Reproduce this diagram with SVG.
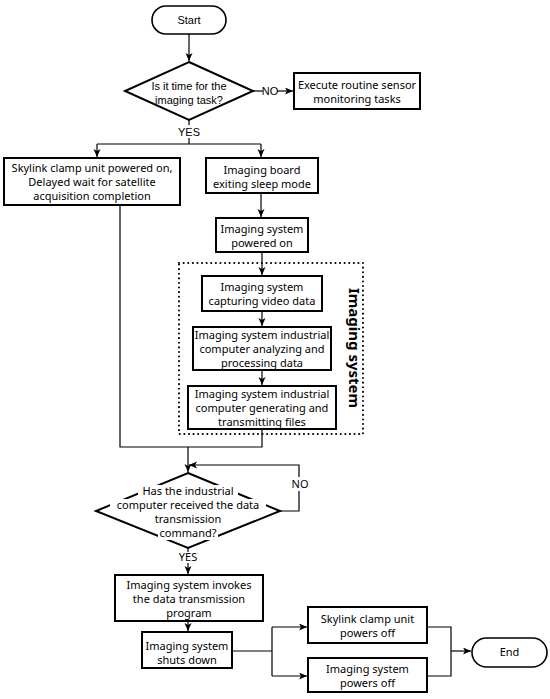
<svg xmlns="http://www.w3.org/2000/svg" width="550" height="699" viewBox="0 0 550 699">
<style>
.box{fill:#fff;stroke:#000;stroke-width:2}
.term{fill:#fff;stroke:#000;stroke-width:1.6}
.dia{fill:#fff;stroke:#000;stroke-width:2}
.con{fill:none;stroke:#000;stroke-width:1.2}
.t{font-family:"Noto Sans","Open Sans",sans-serif;font-size:11px;fill:#000;text-anchor:middle}
.a{font-family:"Liberation Sans",Arial,sans-serif;font-size:11px;fill:#000;text-anchor:middle}
.dot{fill:none;stroke:#000;stroke-width:2;stroke-dasharray:0.1 4.5;stroke-linecap:round}
.vt{font-family:"Noto Sans","Open Sans",sans-serif;font-size:15px;font-weight:bold;fill:#000;text-anchor:middle}
</style>
<defs>
<marker id="ah" markerUnits="userSpaceOnUse" markerWidth="10" markerHeight="8" refX="8" refY="3.5" orient="auto">
<path d="M0,0 L8,3.5 L0,7 L2,3.5 z" fill="#000"/>
</marker>
</defs>
<rect width="550" height="699" fill="#fff"/>
<g id="connectors">
<path class="con" d="M189,34 V61" marker-end="url(#ah)"/>
<path class="con" d="M253,91 H263"/>
<path class="con" d="M277,91 H293" marker-end="url(#ah)"/>
<path class="con" d="M189,120 V125"/>
<path class="con" d="M189,138 V144"/>
<path class="con" d="M97,144 H261"/>
<path class="con" d="M97,144 V157" marker-end="url(#ah)"/>
<path class="con" d="M261,144 V157" marker-end="url(#ah)"/>
<path class="con" d="M261,193 V217" marker-end="url(#ah)"/>
<path class="con" d="M262,252 V275" marker-end="url(#ah)"/>
<path class="con" d="M262,311 V326" marker-end="url(#ah)"/>
<path class="con" d="M262,370 V385" marker-end="url(#ah)"/>
<path class="con" d="M120,205 V447 H262 V429"/>
<path class="con" d="M188,447 V472" marker-end="url(#ah)"/>
<path class="con" d="M280,511 H299 V465 H189" marker-end="url(#ah)"/>
<path class="con" d="M188,548 V552"/>
<path class="con" d="M188,563 V574" marker-end="url(#ah)"/>
<path class="con" d="M188,621 V631" marker-end="url(#ah)"/>
<path class="con" d="M232,651 H272"/>
<path class="con" d="M272,627 V676"/>
<path class="con" d="M272,627 H307" marker-end="url(#ah)"/>
<path class="con" d="M272,676 H307" marker-end="url(#ah)"/>
<path class="con" d="M427,627 H451 V676 H427"/>
<path class="con" d="M451,651 H471" marker-end="url(#ah)"/>
<text class="a" x="270" y="95">NO</text>
<text class="a" x="189" y="136">YES</text>
<rect x="291" y="477" width="18" height="14" fill="#fff"/>
<text class="t" x="300" y="488">NO</text>
<text class="t" x="188" y="561">YES</text>
</g>
<g id="start">
<rect class="term" x="152" y="6" width="74" height="28" rx="14"/>
<text class="a" x="189" y="24">Start</text>
</g>
<g id="decision1">
<polygon class="dia" points="189,62 253,91 189,120 125,91"/>
<text class="a" x="189" y="90">Is it time for the</text>
<text class="a" x="189" y="103.5">imaging task?</text>
</g>
<g id="routine">
<rect class="box" x="294" y="73" width="126" height="36"/>
<text class="t" x="357" y="89">Execute routine sensor</text>
<text class="t" x="357" y="103">monitoring tasks</text>
</g>
<g id="skylink-on">
<rect class="box" x="4" y="158" width="176" height="47"/>
<text class="t" x="92" y="171.5">Skylink clamp unit powered on,</text>
<text class="t" x="92" y="185.5">Delayed wait for satellite</text>
<text class="t" x="92" y="199.5">acquisition completion</text>
</g>
<g id="board-wake">
<rect class="box" x="206" y="158" width="112" height="35"/>
<text class="t" x="262" y="173.5">Imaging board</text>
<text class="t" x="262" y="187.5">exiting sleep mode</text>
</g>
<g id="powered-on">
<rect class="box" x="216" y="218" width="92" height="34"/>
<text class="t" x="262" y="232.5">Imaging system</text>
<text class="t" x="262" y="246.5">powered on</text>
</g>
<g id="imaging-group">
<rect class="dot" x="179" y="263" width="184" height="171"/>
<text class="vt" transform="translate(354,348) rotate(90)" y="5">Imaging system</text>
</g>
<g id="capture">
<rect class="box" x="202" y="276" width="120" height="35"/>
<text class="t" x="262" y="291">Imaging system</text>
<text class="t" x="262" y="305">capturing video data</text>
</g>
<g id="analyze">
<rect class="box" x="193" y="327" width="138" height="43"/>
<text class="t" x="262" y="339">Imaging system industrial</text>
<text class="t" x="262" y="353">computer analyzing and</text>
<text class="t" x="262" y="367">processing data</text>
</g>
<g id="generate">
<rect class="box" x="188" y="386" width="148" height="43"/>
<text class="t" x="262" y="398">Imaging system industrial</text>
<text class="t" x="262" y="412">computer generating and</text>
<text class="t" x="262" y="426">transmitting files</text>
</g>
<g id="decision2">
<polygon class="dia" points="188,473 280,511 188,548 96,511"/>
<rect x="138" y="485" width="100" height="13" fill="#fff"/>
<rect x="110" y="499" width="156" height="13" fill="#fff"/>
<rect x="151" y="513" width="74" height="13" fill="#fff"/>
<rect x="158" y="527" width="60" height="13" fill="#fff"/>
<text class="t" x="188" y="495">Has the industrial</text>
<text class="t" x="188" y="509">computer received the data</text>
<text class="t" x="188" y="523">transmission</text>
<text class="t" x="188" y="537">command?</text>
</g>
<g id="invoke">
<rect class="box" x="115" y="575" width="148" height="46"/>
<text class="t" x="189" y="589">Imaging system invokes</text>
<text class="t" x="189" y="603">the data transmission</text>
<text class="t" x="189" y="617">program</text>
</g>
<g id="shutdown">
<rect class="box" x="142" y="632" width="90" height="36"/>
<text class="t" x="187" y="649.5">Imaging system</text>
<text class="t" x="187" y="663.5">shuts down</text>
</g>
<g id="skylink-off">
<rect class="box" x="308" y="607" width="119" height="36"/>
<text class="t" x="367.5" y="623">Skylink clamp unit</text>
<text class="t" x="367.5" y="637">powers off</text>
</g>
<g id="imaging-off">
<rect class="box" x="308" y="658" width="119" height="34"/>
<text class="t" x="367.5" y="672.5">Imaging system</text>
<text class="t" x="367.5" y="686.5">powers off</text>
</g>
<g id="end">
<rect class="term" x="472" y="638" width="75" height="29" rx="14.5"/>
<text class="t" x="509.5" y="656">End</text>
</g>
</svg>
